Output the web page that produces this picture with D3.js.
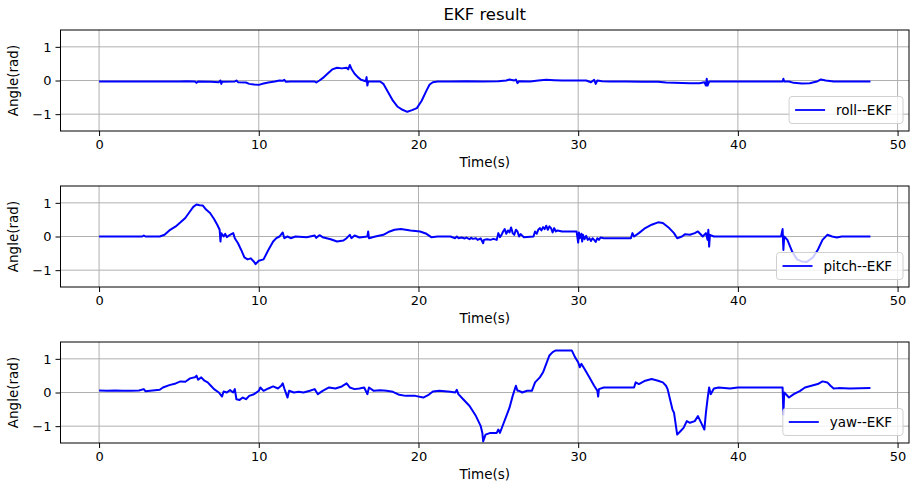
<!DOCTYPE html>
<html>
<head>
<meta charset="utf-8">
<script src="https://cdn.jsdelivr.net/npm/d3@7"></script>
<style>
  html, body { margin: 0; padding: 0; background: #fff; }
  svg { display: block; font-family: "DejaVu Sans", sans-serif; }
</style>
</head>
<body>
<svg id="chart" width="913" height="494"></svg>
<script>
// ---------- data (time in s, angle in rad) ----------
const chartTitle = "EKF result";
const xLabel = "Time(s)";
const yLabel = "Angle(rad)";
const xTicks = [0, 10, 20, 30, 40, 50];
const yTicks = [-1, 0, 1];
const seriesNames = ["roll--EKF", "pitch--EKF", "yaw--EKF"];

const rollData = [[0,-0.03],[2,-0.03],[4,-0.03],[5,-0.03],[5.5,-0.02],[6.0,-0.03],[6.1,-0.07],[6.2,-0.03],[7,-0.04],[7.5,-0.05],[7.6,0.0],[7.65,-0.1],[7.7,-0.04],[8.5,-0.03],[8.6,0.0],[8.7,-0.05],[9.2,-0.06],[9.4,-0.1],[9.7,-0.12],[10.0,-0.13],[10.3,-0.09],[10.6,-0.06],[11.0,-0.03],[11.3,0.0],[11.5,-0.01],[11.6,0.02],[11.7,-0.04],[12,-0.03],[13,-0.03],[13.5,-0.03],[13.6,-0.06],[13.8,0.0],[14.0,0.07],[14.3,0.2],[14.6,0.33],[14.9,0.38],[15.2,0.36],[15.5,0.38],[15.6,0.33],[15.7,0.46],[15.8,0.35],[16.0,0.2],[16.2,0.1],[16.4,0.02],[16.7,-0.02],[16.75,0.1],[16.8,-0.15],[16.85,-0.03],[17.3,-0.03],[17.6,-0.03],[17.8,-0.1],[18.1,-0.35],[18.4,-0.6],[18.7,-0.78],[19.0,-0.87],[19.3,-0.93],[19.6,-0.88],[19.9,-0.82],[20.2,-0.6],[20.5,-0.3],[20.7,-0.12],[20.9,-0.05],[21.2,-0.03],[22,-0.03],[23,-0.02],[24,-0.03],[25,-0.02],[25.5,0.0],[25.7,0.03],[26.0,0.0],[26.1,0.03],[26.2,-0.08],[26.3,-0.02],[27,-0.03],[27.5,0.0],[28,0.02],[28.5,0.01],[29,0.0],[30,0.0],[30.5,0.0],[30.8,-0.05],[31.0,0.02],[31.1,-0.1],[31.2,0.0],[31.5,-0.02],[32,-0.03],[33,-0.03],[34,-0.04],[35,-0.04],[35.5,-0.06],[36,-0.07],[37,-0.08],[37.6,-0.08],[37.9,-0.05],[38.0,-0.15],[38.05,0.05],[38.1,-0.15],[38.2,-0.03],[39,-0.03],[40,-0.03],[41,-0.03],[42,-0.03],[42.8,-0.03],[42.85,0.05],[42.9,-0.03],[43.2,-0.03],[43.5,-0.07],[44,-0.09],[44.5,-0.08],[45,-0.02],[45.2,0.03],[45.5,0.0],[46,-0.03],[47,-0.03],[48.3,-0.03]];

const pitchData = [[0,0],[2.7,0],[2.8,0.03],[2.9,0],[3.8,0],[4.1,0.05],[4.4,0.18],[4.8,0.3],[5.1,0.42],[5.4,0.55],[5.7,0.75],[5.9,0.88],[6.1,0.95],[6.3,0.93],[6.5,0.92],[6.7,0.8],[6.95,0.7],[7.2,0.52],[7.4,0.35],[7.55,0.2],[7.6,-0.15],[7.65,0.1],[7.8,0.0],[7.9,0.08],[8.0,-0.02],[8.2,0.05],[8.4,0.1],[8.5,-0.05],[8.7,-0.2],[8.9,-0.4],[9.1,-0.62],[9.3,-0.68],[9.5,-0.65],[9.7,-0.75],[9.8,-0.82],[10.0,-0.72],[10.3,-0.68],[10.6,-0.4],[10.9,-0.15],[11.1,-0.05],[11.3,0.0],[11.5,0.12],[11.6,-0.05],[11.8,0.0],[12.0,-0.05],[12.3,0.0],[13,-0.02],[13.5,0.03],[13.6,-0.04],[13.8,0.04],[14.0,-0.02],[14.5,-0.08],[14.9,-0.15],[15.3,-0.12],[15.5,-0.05],[15.7,0.05],[15.8,-0.05],[16.0,0.03],[16.3,-0.03],[16.8,0.0],[16.85,0.15],[16.9,-0.05],[17.3,0.0],[17.8,0.05],[18.2,0.15],[18.5,0.2],[18.9,0.22],[19.5,0.18],[20.1,0.15],[20.5,0.08],[20.8,-0.02],[21.2,0.0],[22,0.0],[22.3,-0.05],[22.4,0.0],[22.5,-0.05],[22.7,-0.03],[22.9,-0.06],[23.0,-0.03],[23.2,-0.08],[23.3,-0.04],[23.4,-0.07],[23.6,-0.05],[23.7,-0.1],[23.9,-0.06],[24.05,-0.2],[24.1,-0.1],[24.3,-0.08],[24.5,-0.1],[24.7,-0.07],[24.9,-0.1],[25.0,0.1],[25.1,-0.02],[25.2,0.05],[25.3,0.15],[25.4,0.22],[25.5,0.08],[25.6,0.18],[25.7,0.12],[25.8,0.27],[25.9,0.1],[26.0,0.05],[26.1,0.2],[26.2,0.15],[26.3,0.0],[26.4,0.07],[26.6,-0.02],[27.2,0.0],[27.3,0.15],[27.4,0.08],[27.5,0.2],[27.6,0.25],[27.7,0.18],[27.8,0.28],[27.9,0.22],[28.0,0.32],[28.1,0.2],[28.2,0.3],[28.3,0.25],[28.4,0.12],[28.5,0.25],[28.6,0.15],[28.7,0.18],[29.0,0.15],[29.9,0.15],[30.0,-0.18],[30.05,0.12],[30.1,-0.05],[30.2,0.08],[30.25,-0.15],[30.3,0.05],[30.4,-0.08],[30.5,0.02],[30.6,-0.1],[30.7,-0.05],[30.8,-0.13],[30.9,-0.05],[31.0,-0.1],[31.1,-0.16],[31.2,-0.05],[31.3,-0.1],[31.4,-0.03],[31.6,-0.05],[32.5,-0.05],[33.3,-0.05],[33.4,0.1],[33.5,0.0],[33.8,0.1],[34.2,0.25],[34.6,0.35],[35.0,0.42],[35.3,0.4],[35.7,0.25],[36.0,0.1],[36.2,-0.05],[36.5,0.0],[36.7,0.07],[37.0,0.05],[37.3,0.1],[37.5,0.15],[37.8,0.0],[38.0,0.1],[38.1,-0.1],[38.15,0.2],[38.2,-0.3],[38.25,0.05],[38.5,0.0],[39,0.0],[40,0.0],[41,0.0],[42.7,0.0],[42.8,0.22],[42.85,-0.4],[42.9,0.0],[43.1,-0.1],[43.4,-0.45],[43.7,-0.68],[44.0,-0.74],[44.3,-0.76],[44.7,-0.62],[45.0,-0.4],[45.3,-0.1],[45.6,0.05],[45.9,0.0],[46.2,-0.03],[46.5,0.0],[48.3,0.0]];

const yawData = [[0,0.06],[0.5,0.05],[1,0.06],[1.5,0.05],[2,0.05],[2.5,0.06],[2.8,0.1],[2.9,0.04],[3.5,0.07],[3.8,0.08],[4.0,0.15],[4.4,0.22],[4.8,0.27],[5.1,0.33],[5.4,0.32],[5.7,0.42],[6.0,0.45],[6.1,0.5],[6.2,0.38],[6.4,0.45],[6.6,0.35],[6.8,0.3],[7.0,0.2],[7.2,0.1],[7.5,0.0],[7.7,-0.12],[7.8,0.03],[8.0,0.0],[8.2,0.07],[8.4,0.0],[8.5,0.1],[8.6,-0.2],[8.8,-0.22],[9.0,-0.15],[9.2,-0.2],[9.4,-0.1],[9.7,-0.05],[10.0,0.05],[10.1,0.15],[10.3,0.05],[10.6,0.12],[10.9,0.18],[11.2,0.12],[11.4,0.2],[11.5,0.27],[11.6,0.12],[11.8,-0.15],[11.9,0.05],[12.2,0.0],[12.5,0.02],[12.8,0.0],[13.2,0.05],[13.5,0.1],[13.7,-0.05],[14.0,0.05],[14.4,0.15],[14.8,0.12],[15.2,0.18],[15.5,0.27],[15.7,0.15],[16.0,0.1],[16.3,0.12],[16.6,0.15],[16.8,-0.05],[16.9,0.15],[17.2,0.05],[17.6,0.07],[18.0,0.05],[18.4,0.02],[18.8,-0.07],[19.2,-0.1],[19.8,-0.1],[20.3,-0.15],[20.6,-0.08],[20.9,0.03],[21.3,0.05],[22.0,0.02],[22.3,0.0],[22.4,0.08],[22.5,-0.05],[22.8,-0.2],[23.2,-0.4],[23.6,-0.7],[23.9,-1.0],[24.0,-1.2],[24.05,-1.45],[24.2,-1.25],[24.5,-1.2],[24.9,-1.2],[25.0,-1.1],[25.1,-1.2],[25.3,-0.95],[25.5,-0.7],[25.7,-0.45],[25.9,-0.1],[26.1,0.2],[26.2,0.05],[26.3,0.05],[26.5,0.0],[26.8,0.05],[27.1,0.05],[27.3,0.3],[27.6,0.45],[27.8,0.6],[28.0,0.85],[28.2,1.1],[28.4,1.2],[28.6,1.25],[29.0,1.25],[29.6,1.25],[29.8,1.05],[30.0,0.9],[30.1,0.75],[30.2,0.85],[30.4,0.7],[30.7,0.45],[31.0,0.2],[31.2,0.05],[31.25,-0.12],[31.3,0.1],[31.6,0.15],[32,0.15],[33,0.15],[33.5,0.15],[33.6,0.3],[33.8,0.25],[34.2,0.35],[34.6,0.4],[35.0,0.35],[35.3,0.3],[35.5,0.2],[35.6,0.1],[35.8,-0.3],[35.9,-0.5],[36.0,-0.6],[36.2,-1.25],[36.4,-1.15],[36.6,-1.05],[36.8,-0.85],[37.0,-0.9],[37.3,-0.85],[37.5,-0.7],[37.8,-1.0],[37.9,-1.1],[38.0,-0.6],[38.1,-0.2],[38.2,0.15],[38.3,-0.05],[38.5,0.12],[38.8,0.15],[39.5,0.12],[40,0.15],[41,0.15],[42,0.15],[42.8,0.15],[42.85,-0.65],[42.9,0.0],[43.2,-0.15],[43.5,-0.05],[43.9,0.05],[44.2,0.15],[44.6,0.2],[45.0,0.25],[45.3,0.33],[45.6,0.3],[45.8,0.2],[46.0,0.12],[46.3,0.13],[47,0.12],[48.3,0.13]];

const allSeries = [rollData, pitchData, yawData];

// ---------- layout ----------
const svg = d3.select("#chart");
const axLeft = 60.5, axRight = 909, axHeight = 101;
const axTops = [30, 186, 342];
const lineColor = "#0000ff";
const gridColor = "#b0b0b0";

const x = d3.scaleLinear().domain([-2.415, 50.715]).range([axLeft, axRight]);

svg.append("text")
  .attr("x", (axLeft + axRight) / 2).attr("y", 20)
  .attr("text-anchor", "middle")
  .attr("font-size", 16.5).attr("fill", "#000")
  .text(chartTitle);

allSeries.forEach((data, i) => {
  const top = axTops[i];
  const y = d3.scaleLinear().domain([-1.5, 1.5]).range([top + axHeight, top]);
  const g = svg.append("g");

  const clipId = "clip" + i;
  svg.append("clipPath").attr("id", clipId)
    .append("rect").attr("x", axLeft).attr("y", top).attr("width", axRight - axLeft).attr("height", axHeight);

  // grid
  g.append("g").selectAll("line").data(xTicks).join("line")
    .attr("x1", d => x(d)).attr("x2", d => x(d))
    .attr("y1", top).attr("y2", top + axHeight)
    .attr("stroke", gridColor).attr("stroke-width", 1);
  g.append("g").selectAll("line").data(yTicks).join("line")
    .attr("x1", axLeft).attr("x2", axRight)
    .attr("y1", d => y(d)).attr("y2", d => y(d))
    .attr("stroke", gridColor).attr("stroke-width", 1);

  // series line
  const line = d3.line().x(d => x(d[0])).y(d => y(d[1]));
  g.append("path").datum(data)
    .attr("clip-path", `url(#${clipId})`)
    .attr("d", line)
    .attr("fill", "none")
    .attr("stroke", lineColor)
    .attr("stroke-width", 2)
    .attr("stroke-linejoin", "round");

  // axes
  const xAxis = d3.axisBottom(x).tickValues(xTicks).tickSize(5).tickPadding(4).tickFormat(d3.format("d"));
  const yAxis = d3.axisLeft(y).tickValues(yTicks).tickSize(5).tickPadding(4).tickFormat(d3.format("d"));
  const gx = g.append("g").attr("transform", `translate(0,${top + axHeight})`).call(xAxis);
  const gy = g.append("g").attr("transform", `translate(${axLeft},0)`).call(yAxis);
  [gx, gy].forEach(a => {
    a.select(".domain").remove();
    a.selectAll(".tick line").attr("stroke", "#000").attr("stroke-width", 1);
    a.selectAll(".tick text").attr("font-size", 13).attr("fill", "#000").attr("font-family", "DejaVu Sans, sans-serif");
  });

  // frame
  g.append("rect")
    .attr("x", axLeft).attr("y", top)
    .attr("width", axRight - axLeft).attr("height", axHeight)
    .attr("fill", "none").attr("stroke", "#000").attr("stroke-width", 1);

  // axis labels
  g.append("text")
    .attr("x", (axLeft + axRight) / 2 ).attr("y", top + axHeight + 36)
    .attr("text-anchor", "middle").attr("font-size", 13.5).attr("fill", "#000")
    .text(xLabel);
  g.append("text")
    .attr("transform", `translate(18,${top + axHeight / 2}) rotate(-90)`)
    .attr("text-anchor", "middle").attr("font-size", 13.5).attr("fill", "#000")
    .text(yLabel);

  // legend
  const lg = g.append("g");
  const txt = lg.append("text").attr("font-size", 13.5).attr("fill", "#000").text(seriesNames[i]);
  const tw = txt.node().getComputedTextLength();
  const boxW = 10 + 30 + 10 + tw + 8;
  const boxH = 27;
  const bx = axRight - 6 - boxW, by = top + axHeight - 7.5 - boxH;
  lg.insert("rect", "text")
    .attr("x", bx).attr("y", by).attr("width", boxW).attr("height", boxH)
    .attr("rx", 3).attr("fill", "#fff").attr("fill-opacity", 0.8)
    .attr("stroke", "#d0d0d0").attr("stroke-width", 1);
  lg.insert("line", "text")
    .attr("x1", bx + 6).attr("x2", bx + 36)
    .attr("y1", by + boxH / 2).attr("y2", by + boxH / 2)
    .attr("stroke", lineColor).attr("stroke-width", 1.8);
  txt.attr("x", bx + 47).attr("y", by + boxH / 2 + 5);
});
</script>
</body>
</html>
